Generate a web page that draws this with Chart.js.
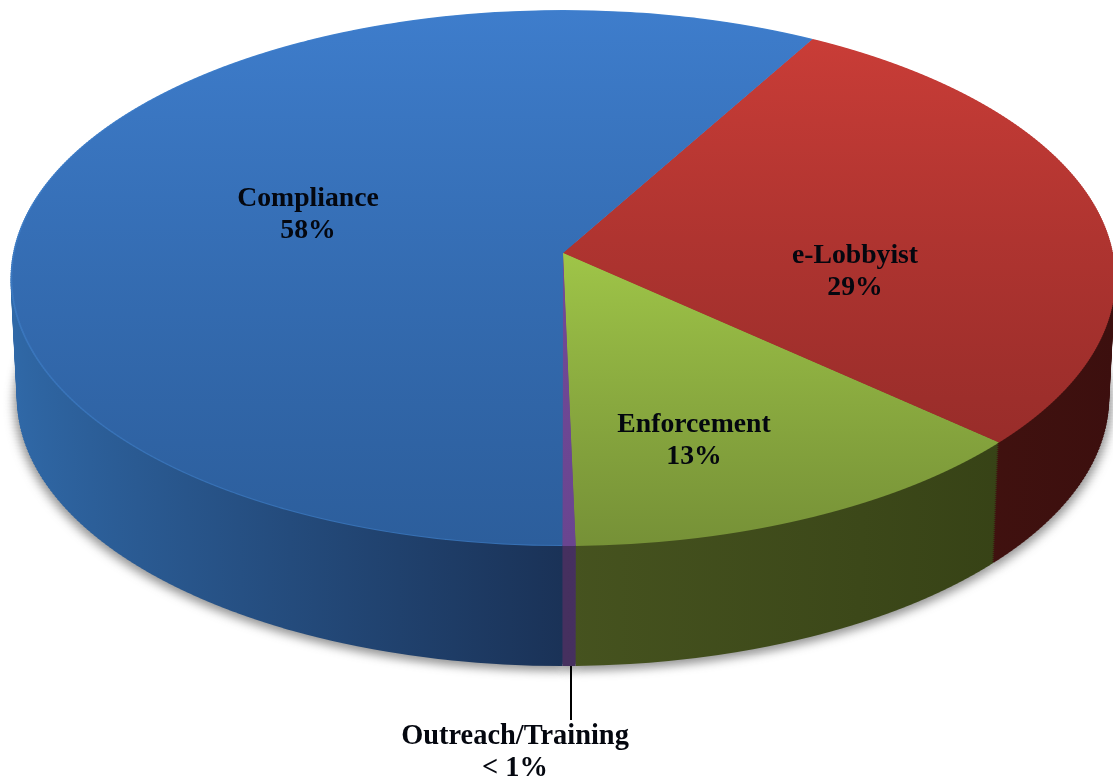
<!DOCTYPE html>
<html>
<head>
<meta charset="utf-8">
<title>Compliance pie</title>
<style>
  html, body { margin: 0; padding: 0; background: #fff; }
  canvas { display: block; }
</style>
<script src="https://cdn.jsdelivr.net/npm/chart.js@4"></script>
</head>
<body>
<canvas id="PieChart" width="1113" height="783"></canvas>
<script>
// slice order runs clockwise from the Compliance / e-Lobbyist edge
const categories = ["e-Lobbyist", "Enforcement", "Outreach/Training", "Compliance"];
const shares = [28.5, 13, 0.35, 58.15];
const shareLabels = ["29%", "13%", "< 1%", "58%"];

const faceColors = [["#cd3e38", "#8e2927"], ["#c8f959", "#769137"], ["#7a4ea0", "#6a4590"], ["#3e7dcc", "#2c5e9c"]];
const rimColors = [["#cd3e38", "#8e2927"], ["#c8f959", "#769137"], ["#7a4ea0", "#6a4590"], ["#4283d0", "#3670b4"]];
const wallColors = [["#4a1712", "#3c0f0e"], ["#46531f", "#323d13"], ["#46305f", "#3e2a58"], ["#3069a8", "#1a3257"]];
const labelSpots = [[855, 256], [694, 425], [515, 737], [308, 199]];
const labelSizes = [27.7, 27.7, 28.4, 27.7];

// perspective of the disc: unit circle (u, v) -> screen, v = -1 far edge, v = 1 near edge
const apexX = 563, apexY = 253;
const farY = 10, nearY = 546;
const persp = ((apexY - farY) - (nearY - apexY)) / (nearY - farY);
const spreadY = (apexY - farY) + farY * persp;
const spreadX = 550;
const depth = 120;

function vAt(y) {
    return (y - apexY) / (spreadY - persp * y);
}

function paintLayer(chart, fills, opts) {
    let ctx = chart.ctx;
    let arcs = chart.getDatasetMeta(0).data;
    let painted = arcs.map((arc, i) => {
        let p = Object.create(arc);
        p.options = Object.assign({}, arc.options, {backgroundColor: fills[i], borderWidth: 0});
        return p;
    });
    let d = opts.offset || 0;
    let shrink = opts.shrink || 1;
    let sideScale = 1 - 0.0115 * d / depth;
    let first = opts.from === undefined ? farY - 4 : opts.from;
    let last = nearY + (opts.pad || 4);
    for (let y = first; y < last; y += opts.band) {
        let v0 = vAt(y), v1 = vAt(y + opts.band);
        let vm = (v0 + v1) / 2;
        let kx = sideScale * spreadX / (1 + persp * vm);
        let ky = opts.band / (v1 - v0);
        ctx.save();
        ctx.beginPath();
        ctx.rect(0, y + d, 1113, opts.band);
        ctx.clip();
        painted.forEach(p => {
            let R = p.outerRadius;
            ctx.save();
            ctx.translate(apexX, y + d + opts.band / 2 - ky * vm);
            ctx.scale(kx * shrink / R, ky * shrink / R);
            ctx.translate(-p.x, -p.y);
            p.draw(ctx);
            ctx.restore();
        });
        ctx.restore();
    }
}

function gradients(chart, colors, horizontal) {
    let ctx = chart.ctx;
    return chart.getDatasetMeta(0).data.map((arc, i) => {
        let R = arc.outerRadius;
        let g;
        if (!horizontal) {
            g = ctx.createLinearGradient(0, arc.y - R, 0, arc.y + R);
        } else if (i === 3) {
            // Compliance darkens towards the front, the others run to the right
            g = ctx.createLinearGradient(arc.x - R, 0, arc.x, 0);
        } else {
            g = ctx.createLinearGradient(arc.x, 0, arc.x + R, 0);
        }
        g.addColorStop(0, colors[i][0]);
        g.addColorStop(1, colors[i][1]);
        return g;
    });
}

const solidPie = {
    id: "solidPie",
    beforeDatasetsDraw(chart) {
        let ctx = chart.ctx;

        ctx.save();
        ctx.filter = "blur(5px)";
        paintLayer(chart, categories.map(() => "rgba(60,60,60,0.55)"), {offset: depth + 3, band: 3, shrink: 1.006, pad: 18, from: apexY - 60});
        ctx.restore();

        // only the near part of the lower layers ever shows, so skip the far part
        let wall = gradients(chart, wallColors, true);
        for (let d = depth; d > 0; d -= 2) {
            paintLayer(chart, wall, {offset: d, band: 3, from: apexY - 12});
        }
        paintLayer(chart, gradients(chart, rimColors, false), {band: 2});
        paintLayer(chart, gradients(chart, faceColors, false), {band: 2, shrink: 0.997});

        // leader line for the tiny slice
        ctx.save();
        ctx.strokeStyle = "#000";
        ctx.lineWidth = 2;
        ctx.beginPath();
        ctx.moveTo(571, 666);
        ctx.lineTo(571, 720);
        ctx.stroke();
        ctx.restore();

        ctx.save();
        ctx.fillStyle = "#04070f";
        ctx.textAlign = "center";
        ctx.textBaseline = "middle";
        categories.forEach((name, i) => {
            ctx.font = "bold " + labelSizes[i] + "px 'Liberation Serif'";
            ctx.fillText(name, labelSpots[i][0], labelSpots[i][1]);
            ctx.fillText(shareLabels[i], labelSpots[i][0], labelSpots[i][1] + 32);
        });
        ctx.restore();

        return false;
    }
};

let ctx = document.getElementById("PieChart").getContext("2d");
let currPieChart = new Chart(ctx, {
    type: "pie",
    plugins: [solidPie],
    data: {
        labels: categories,
        datasets: [{
            data: shares,
            backgroundColor: faceColors.map(c => c[0]),
            borderWidth: 0
        }]
    },
    options: {
        responsive: false,
        animation: false,
        rotation: 29.4,
        plugins: {
            legend: {display: false},
            tooltip: {enabled: false}
        }
    }
});
</script>
</body>
</html>
